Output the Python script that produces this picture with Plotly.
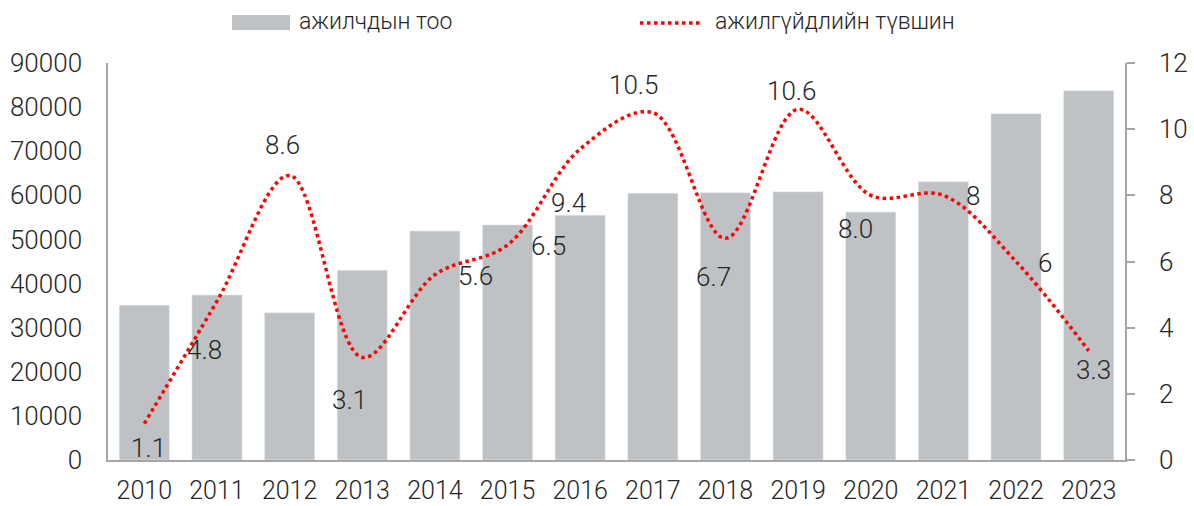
import plotly.graph_objects as go

years = ["2010", "2011", "2012", "2013", "2014", "2015", "2016",
         "2017", "2018", "2019", "2020", "2021", "2022", "2023"]
workers = [35100, 37400, 33400, 43000, 51900, 53300, 55500,
           60500, 60600, 60800, 56200, 63100, 78500, 83700]
unemployment = [1.1, 4.8, 8.6, 3.1, 5.6, 6.5, 9.4,
                10.5, 6.7, 10.6, 8.0, 8.0, 6.0, 3.3]
rate_labels = ["1.1", "4.8", "8.6", "3.1", "5.6", "6.5", "9.4",
               "10.5", "6.7", "10.6", "8.0", "8", "6", "3.3"]
bar_name = "ажилчдын тоо"
line_name = "ажилгүйдлийн түвшин"

# label offsets (px) relative to each point
label_dx = [4, -12, -7, -13, 41, 41, -12, -19, -12, -6, -15, 30, 29, 5]
label_dy = [-24, -49, 30, -43, -1, -1, -54, 28, -39, 18, -34, -1, -1, -19]

FONT = "Roboto"
FS = 26
LFS = 23
TXT = "#262626"
AX = "#a6a6a6"
BAR = "#bec2c5"
RED = "#ff0000"

W, H = 1194, 506
L, R, T, B = 108, 69, 63, 46
pw, ph = W - L - R, H - T - B


def px(x):
    return (x - L) / pw


def py(y):
    return (H - B - y) / ph


fig = go.Figure()
fig.add_trace(go.Bar(x=years, y=workers, name=bar_name, marker_color=BAR,
                     showlegend=False, yaxis="y"))
fig.add_trace(go.Scatter(x=years, y=unemployment, name=line_name, mode="lines",
                         line=dict(color=RED, width=3.5, dash="dot",
                                   shape="spline", smoothing=1.0),
                         showlegend=False, yaxis="y2"))

annotations = []
for i, (v, t, dx, dy) in enumerate(zip(unemployment, rate_labels, label_dx, label_dy)):
    annotations.append(dict(x=i, y=v, xref="x", yref="y2", text=t,
                            showarrow=False, xshift=dx, yshift=dy,
                            font=dict(family=FONT, size=FS, color=TXT, weight=300)))

# custom legend
annotations.append(dict(x=px(297), y=py(21), xref="paper", yref="paper",
                        text=bar_name, showarrow=False, xanchor="left",
                        yanchor="middle", font=dict(size=LFS)))
annotations.append(dict(x=px(713), y=py(21), xref="paper", yref="paper",
                        text=line_name, showarrow=False, xanchor="left",
                        yanchor="middle", font=dict(size=LFS)))

fig.update_layout(
    width=W, height=H,
    margin=dict(l=L, r=R, t=T, b=B, autoexpand=False),
    paper_bgcolor="white", plot_bgcolor="white",
    bargap=0.31,
    font=dict(family=FONT, size=FS, color=TXT, weight=300),
    xaxis=dict(type="category", range=[-0.5, 13.5], showline=True,
               linecolor=AX, linewidth=1.5, ticks="", showgrid=False,
               automargin=False, tickfont=dict(size=25), ticklabelstandoff=7),
    yaxis=dict(range=[0, 90000], dtick=10000, showline=True, linecolor=AX,
               linewidth=1.5, showgrid=False, zeroline=False, ticks="",
               tickformat="d", ticklabelstandoff=19, automargin=False),
    yaxis2=dict(range=[0, 12], dtick=2, overlaying="y", side="right",
                showline=True, linecolor=AX, linewidth=1.5, showgrid=False,
                zeroline=False, ticks="outside", ticklen=8, tickcolor=AX,
                tickwidth=1.5, ticklabelstandoff=19, automargin=False),
    showlegend=False,
    annotations=annotations,
)

fig.add_shape(type="rect", xref="paper", yref="paper",
              x0=px(232), x1=px(290), y0=py(30), y1=py(15),
              fillcolor=BAR, line=dict(width=0))
fig.add_shape(type="line", xref="paper", yref="paper",
              x0=px(640), x1=px(700), y0=py(23), y1=py(23),
              line=dict(color=RED, width=3.5, dash="dot"))

fig.write_html("out.html", config={"displayModeBar": False},
               post_script="document.body.style.margin='0';")
